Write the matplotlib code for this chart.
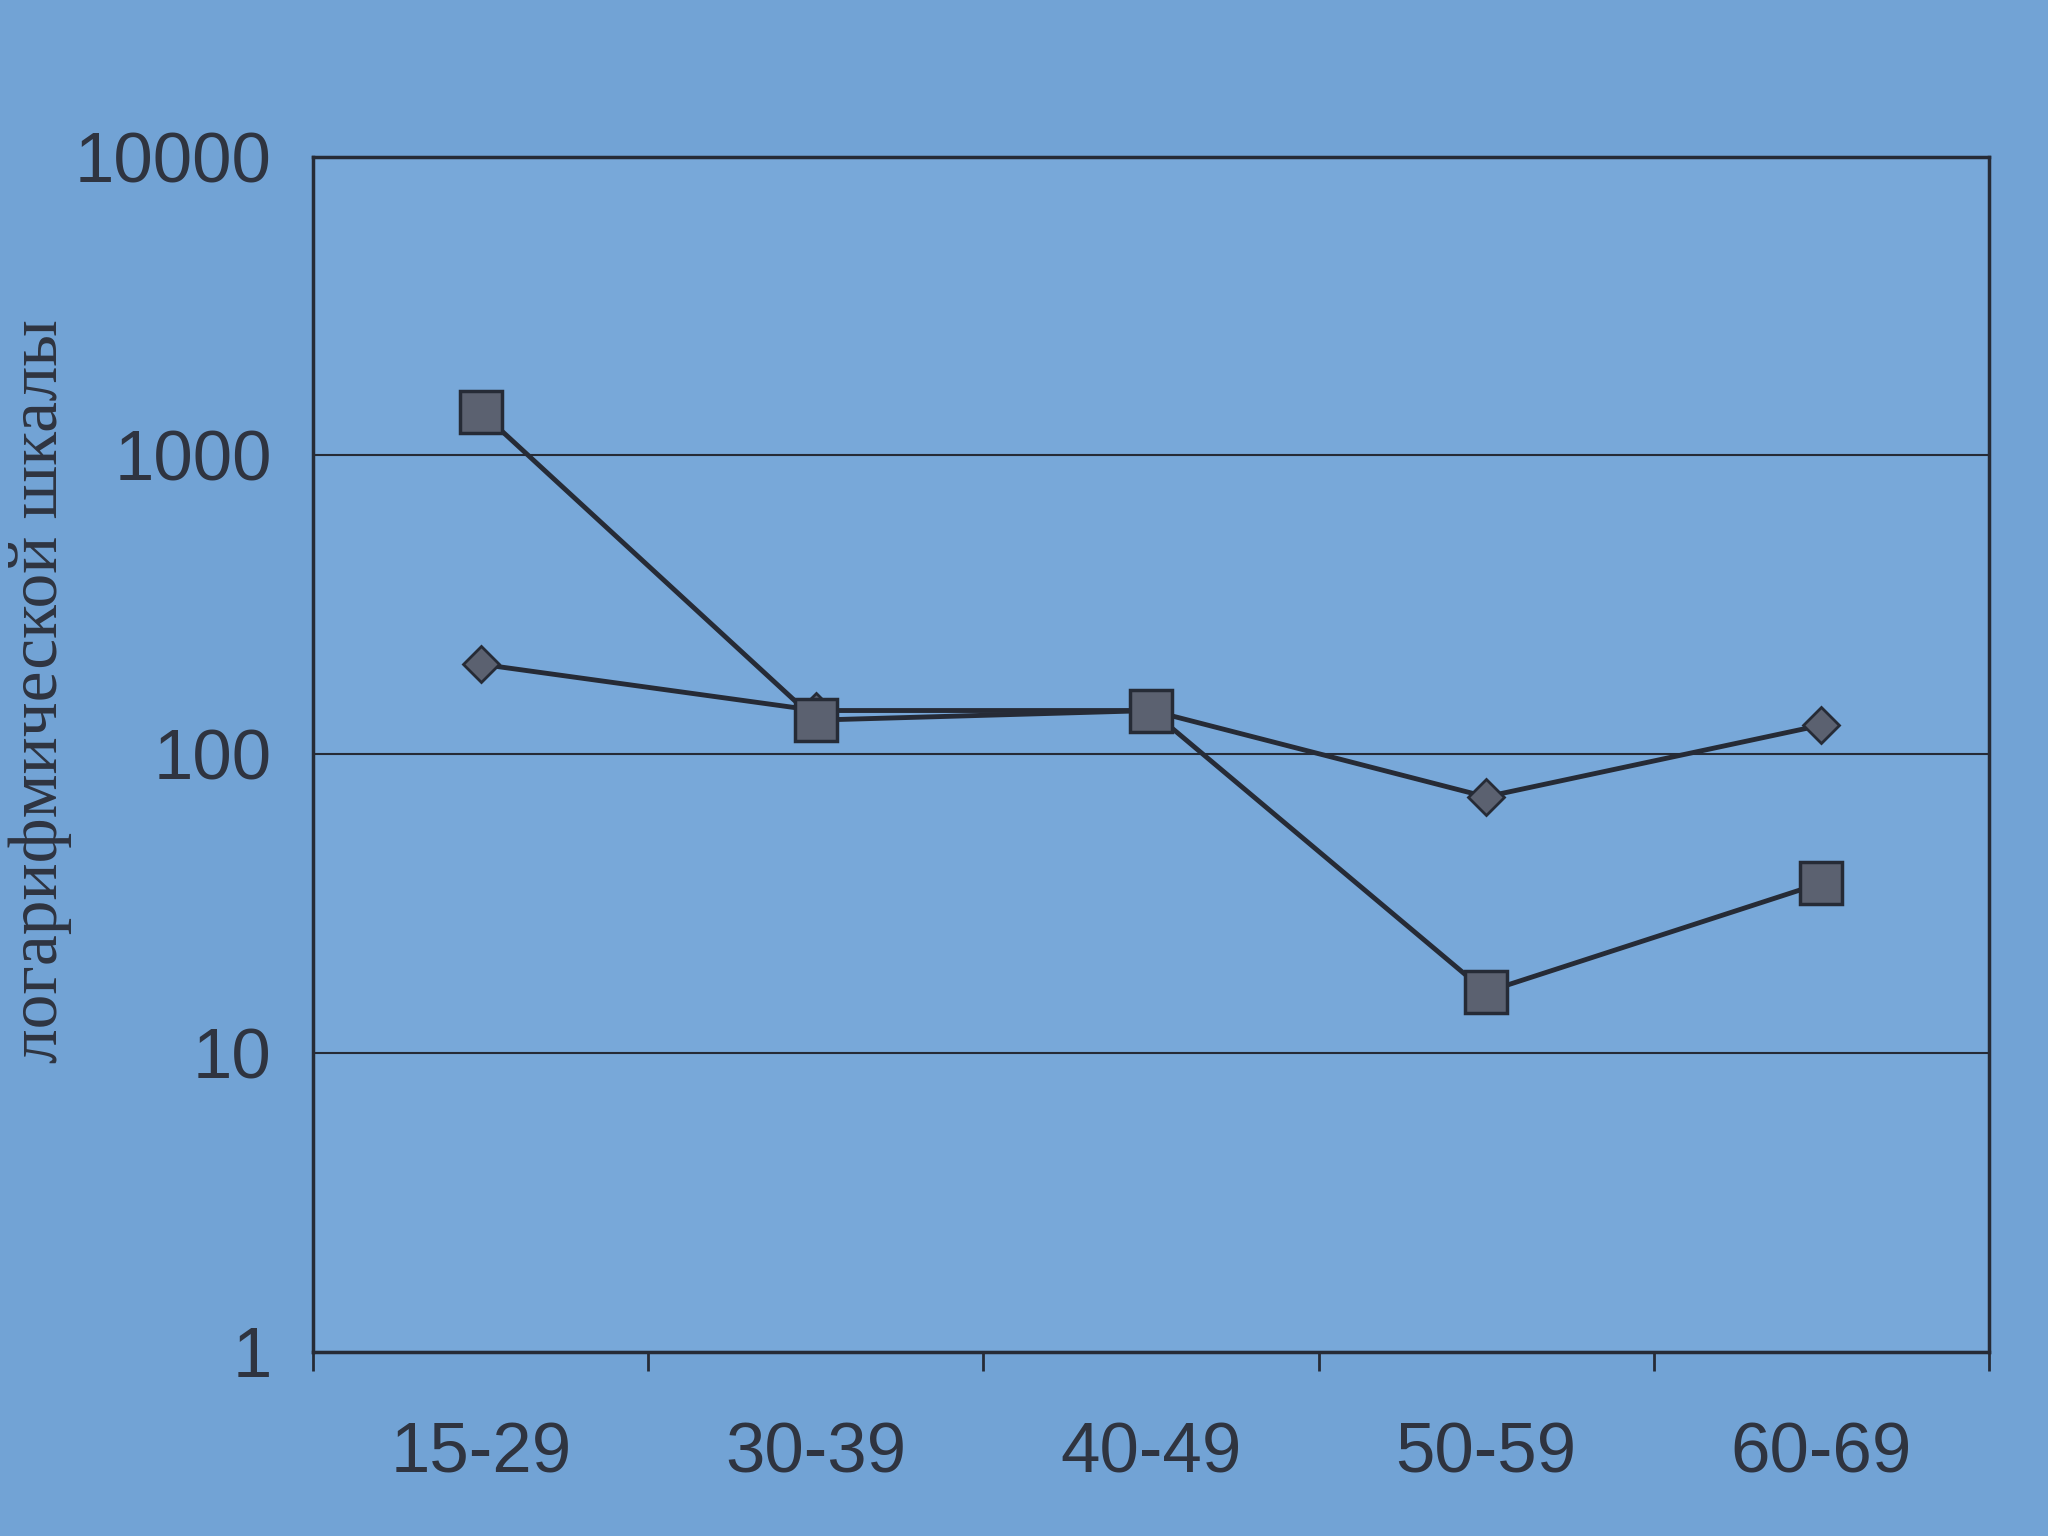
import matplotlib
matplotlib.use("Agg")
import matplotlib.pyplot as plt
import numpy as np

# age groups and the two series (log scale)
age_groups = ["15-29", "30-39", "40-49", "50-59", "60-69"]
squares = [1400, 130, 140, 16, 37]
diamonds = [200, 140, 140, 72, 125]
y_ticks = [1, 10, 100, 1000, 10000]
y_label = "логарифмической шкалы"

bg = "#72a3d5"
ink = "#262b36"
txt = "#2f3440"

fig = plt.figure(figsize=(20.48, 15.36), dpi=100, facecolor=bg)
ax = fig.add_axes([0.153, 0.12, 0.818, 0.778])
ax.set_facecolor("#78a8d9")

x = np.arange(len(age_groups))
ax.plot(x, diamonds, color=ink, lw=3.5, marker="D", markersize=18,
        markerfacecolor="#5b6170", markeredgecolor=ink, markeredgewidth=2, zorder=3)
ax.plot(x, squares, color=ink, lw=3.5, marker="s", markersize=30,
        markerfacecolor="#5b6170", markeredgecolor=ink, markeredgewidth=2.5, zorder=4)

ax.set_yscale("log")
ax.set_ylim(1, 10000)
ax.set_yticks(y_ticks)
ax.set_yticklabels([str(v) for v in y_ticks])
ax.minorticks_off()
ax.yaxis.grid(True, color=ink, lw=1.5)
ax.tick_params(axis="y", length=0, pad=30, labelsize=51, labelcolor=txt)

ax.set_xlim(-0.5, len(age_groups) - 0.5)
ax.set_xticks(np.arange(-0.5, len(age_groups), 1.0))
ax.set_xticklabels([])
ax.set_xticks(x, minor=True)
ax.set_xticklabels(age_groups, minor=True)
ax.tick_params(axis="x", which="major", length=14, width=2, color=ink, direction="out")
ax.tick_params(axis="x", which="minor", length=0, pad=50, labelsize=51, labelcolor=txt)

for lab in ax.get_xticklabels(minor=True) + ax.get_yticklabels():
    lab.set_fontfamily("Liberation Sans")

for s in ax.spines.values():
    s.set_color(ink)
    s.set_linewidth(2.5)

fig.text(0.004, 0.55, y_label, rotation=90, ha="left", va="center",
         fontsize=50, color=txt, family="Liberation Serif")

fig.savefig("out.png", dpi=100, facecolor=bg)
